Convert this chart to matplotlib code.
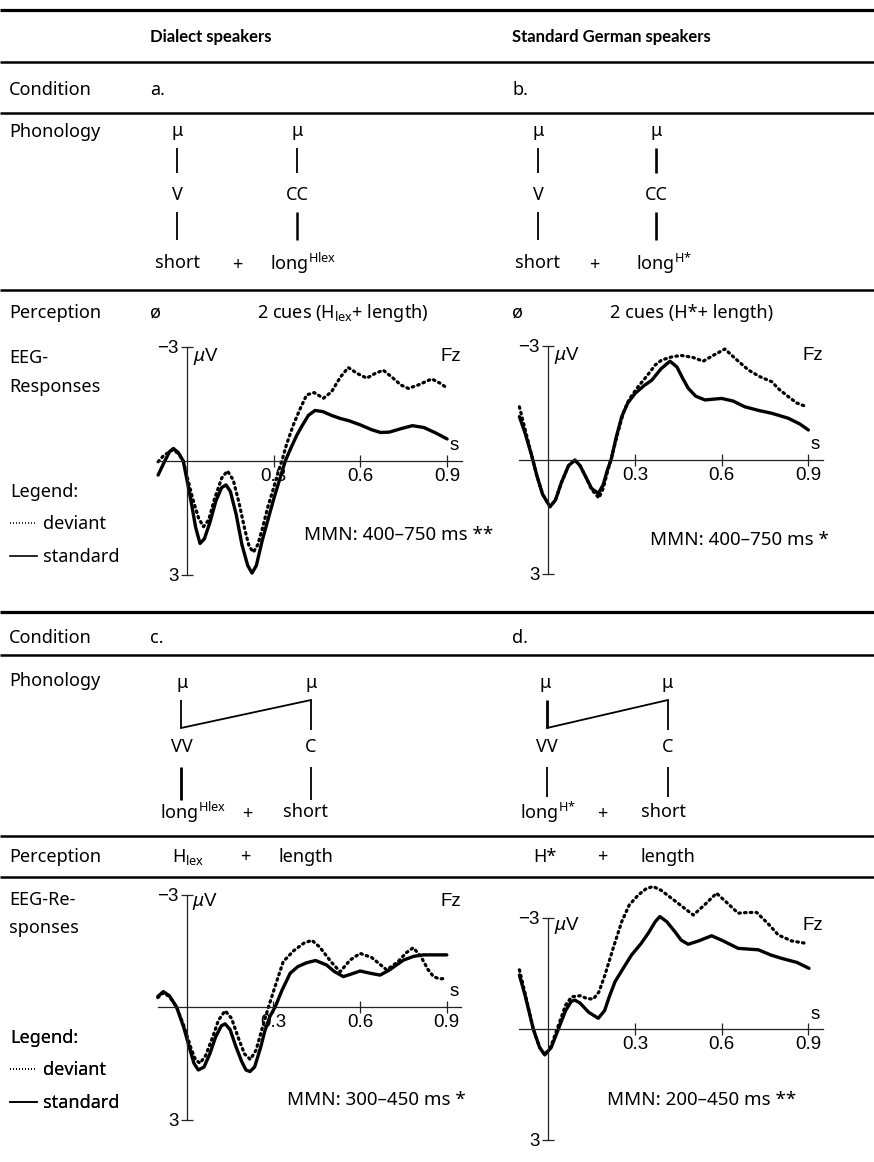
import matplotlib
matplotlib.use('Agg')
import matplotlib.pyplot as plt
from matplotlib.lines import Line2D

plt.rcParams['font.family'] = ['Noto Sans', 'DejaVu Sans']
plt.rcParams['mathtext.fontset'] = 'custom'
plt.rcParams['mathtext.rm'] = 'Noto Sans'
plt.rcParams['mathtext.it'] = 'Noto Sans:italic'
plt.rcParams['mathtext.bf'] = 'Noto Sans:bold'

# ---------------- data (time in s, amplitude in microvolt; negative plotted up) ----------------
t_a_std = [-0.10, -0.08, -0.06, -0.047, -0.03, -0.013, 0.0, 0.015, 0.03, 0.045, 0.06, 0.08, 0.10, 0.12,
           0.135, 0.15, 0.17, 0.19, 0.21, 0.225, 0.24, 0.26, 0.28, 0.30, 0.32, 0.34, 0.36, 0.38, 0.40,
           0.42, 0.443, 0.47, 0.50, 0.53, 0.56, 0.60, 0.64, 0.67, 0.70, 0.74, 0.78, 0.82, 0.86, 0.90]
v_a_std = [0.37, 0.05, -0.25, -0.33, -0.22, 0.0, 0.5, 1.1, 1.75, 2.17, 2.05, 1.6, 1.05, 0.7,
           0.63, 0.8, 1.4, 2.2, 2.75, 2.95, 2.75, 2.1, 1.55, 1.0, 0.5, 0.0, -0.35, -0.68, -0.95,
           -1.2, -1.33, -1.3, -1.2, -1.12, -1.06, -0.95, -0.82, -0.75, -0.76, -0.85, -0.93, -0.88, -0.74, -0.58]
t_a_dev = [-0.10, -0.08, -0.05, -0.03, -0.013, 0.0, 0.02, 0.04, 0.057, 0.075, 0.095, 0.12, 0.14, 0.16,
           0.18, 0.20, 0.215, 0.23, 0.245, 0.26, 0.28, 0.30, 0.315, 0.328, 0.345, 0.368, 0.39, 0.414,
           0.44, 0.472, 0.50, 0.53, 0.558, 0.59, 0.622, 0.65, 0.679, 0.71, 0.74, 0.766, 0.80, 0.847, 0.875, 0.898]
v_a_dev = [0.02, -0.15, -0.29, -0.2, 0.0, 0.4, 1.0, 1.5, 1.73, 1.55, 1.0, 0.45, 0.26, 0.5,
           1.1, 1.8, 2.25, 2.4, 2.2, 1.8, 1.2, 0.7, 0.3, 0.0, -0.45, -0.95, -1.35, -1.74,
           -1.8, -1.65, -1.82, -2.2, -2.46, -2.3, -2.18, -2.3, -2.39, -2.2, -2.0, -1.91, -2.0, -2.16, -2.05, -1.93]

t_b_std = [-0.10, -0.08, -0.058, -0.04, -0.02, 0.006, 0.025, 0.045, 0.07, 0.092, 0.11, 0.13, 0.15, 0.173,
           0.19, 0.205, 0.217, 0.235, 0.254, 0.275, 0.30, 0.33, 0.358, 0.39, 0.421, 0.445, 0.465, 0.484,
           0.51, 0.542, 0.57, 0.60, 0.64, 0.68, 0.73, 0.773, 0.83, 0.87, 0.90]
v_b_std = [-1.14, -0.7, -0.13, 0.4, 0.9, 1.23, 1.05, 0.6, 0.15, 0.0, 0.15, 0.45, 0.75, 0.88,
           0.65, 0.25, 0.0, -0.6, -1.14, -1.5, -1.75, -1.95, -2.1, -2.4, -2.6, -2.45, -2.15, -1.89,
           -1.68, -1.58, -1.6, -1.62, -1.55, -1.4, -1.3, -1.23, -1.1, -0.95, -0.79]
t_b_dev = [-0.10, -0.08, -0.058, -0.04, -0.02, 0.006, 0.025, 0.045, 0.07, 0.092, 0.11, 0.13, 0.15, 0.175,
           0.19, 0.205, 0.22, 0.24, 0.26, 0.28, 0.311, 0.34, 0.37, 0.392, 0.43, 0.461, 0.50, 0.536,
           0.57, 0.611, 0.65, 0.692, 0.73, 0.773, 0.80, 0.83, 0.86, 0.894]
v_b_dev = [-1.4, -0.8, -0.13, 0.4, 0.9, 1.23, 1.05, 0.6, 0.15, 0.0, 0.15, 0.45, 0.78, 1.0,
           0.75, 0.3, -0.1, -0.7, -1.25, -1.6, -1.93, -2.2, -2.5, -2.63, -2.72, -2.75, -2.7, -2.6,
           -2.75, -2.92, -2.65, -2.37, -2.2, -2.06, -1.85, -1.67, -1.5, -1.4]

t_c_std = [-0.10, -0.081, -0.06, -0.035, -0.01, 0.01, 0.025, 0.04, 0.06, 0.08, 0.10, 0.12, 0.133, 0.15,
           0.17, 0.19, 0.205, 0.219, 0.235, 0.255, 0.27, 0.288, 0.306, 0.33, 0.358, 0.385, 0.415, 0.446,
           0.484, 0.51, 0.542, 0.57, 0.60, 0.635, 0.669, 0.70, 0.75, 0.785, 0.819, 0.86, 0.90]
v_c_std = [-0.28, -0.41, -0.3, 0.0, 0.55, 1.1, 1.5, 1.68, 1.6, 1.25, 0.8, 0.5, 0.45, 0.6,
           1.05, 1.45, 1.68, 1.72, 1.6, 1.1, 0.65, 0.25, 0.0, -0.45, -0.9, -1.08, -1.18, -1.24,
           -1.12, -0.95, -0.81, -0.88, -0.96, -0.9, -0.85, -0.98, -1.25, -1.35, -1.39, -1.39, -1.39]
t_c_dev = [-0.10, -0.081, -0.06, -0.035, -0.01, 0.015, 0.03, 0.046, 0.065, 0.09, 0.11, 0.133, 0.155, 0.18,
           0.20, 0.22, 0.24, 0.26, 0.283, 0.31, 0.334, 0.37, 0.405, 0.433, 0.46, 0.50, 0.531, 0.565,
           0.60, 0.64, 0.692, 0.73, 0.76, 0.784, 0.81, 0.835, 0.854, 0.875, 0.894]
v_c_dev = [-0.25, -0.38, -0.28, 0.0, 0.5, 1.1, 1.4, 1.5, 1.3, 0.8, 0.35, 0.1, 0.3, 0.85,
           1.25, 1.4, 1.15, 0.6, 0.0, -0.65, -1.21, -1.5, -1.7, -1.78, -1.6, -1.2, -0.94, -1.25,
           -1.43, -1.32, -0.99, -1.2, -1.45, -1.58, -1.35, -1.0, -0.81, -0.75, -0.76]

t_d_std = [-0.10, -0.08, -0.052, -0.03, -0.012, 0.01, 0.035, 0.06, 0.08, 0.092, 0.11, 0.14, 0.173, 0.195,
           0.21, 0.231, 0.26, 0.288, 0.32, 0.346, 0.37, 0.386, 0.41, 0.438, 0.46, 0.484, 0.52, 0.565,
           0.60, 0.657, 0.727, 0.77, 0.807, 0.86, 0.902]
v_d_std = [-1.46, -0.9, 0.0, 0.5, 0.7, 0.5, 0.0, -0.5, -0.75, -0.78, -0.7, -0.45, -0.29, -0.5,
           -0.85, -1.28, -1.65, -2.0, -2.3, -2.59, -2.9, -3.04, -2.9, -2.63, -2.4, -2.29, -2.38, -2.52,
           -2.4, -2.18, -2.14, -2.0, -1.91, -1.8, -1.64]
t_d_dev = [-0.10, -0.08, -0.052, -0.03, -0.012, 0.01, 0.035, 0.06, 0.081, 0.11, 0.135, 0.156, 0.175, 0.196,
           0.225, 0.254, 0.28, 0.311, 0.34, 0.363, 0.39, 0.427, 0.465, 0.502, 0.54, 0.582, 0.62, 0.657,
           0.69, 0.721, 0.76, 0.796, 0.842, 0.888]
v_d_dev = [-1.6, -0.95, 0.0, 0.5, 0.7, 0.45, -0.1, -0.65, -0.87, -0.9, -0.82, -0.81, -1.0, -1.46,
           -2.2, -2.9, -3.35, -3.62, -3.8, -3.85, -3.75, -3.53, -3.3, -3.08, -3.35, -3.67, -3.4, -3.13,
           -3.15, -3.15, -2.85, -2.54, -2.38, -2.32]

x_ticks = [0.3, 0.6, 0.9]
x_ticklabels = ['0.3', '0.6', '0.9']
y_ticks = [-3, 3]
y_ticklabels = ['\u22123', '3']
mmn_labels = ['MMN: 400\u2013750 ms **', 'MMN: 400\u2013750 ms *',
              'MMN: 300\u2013450 ms *', 'MMN: 200\u2013450 ms **']
legend_labels = ['deviant', 'standard']

# ---------------- figure ----------------
W, H = 874, 1162
fig = plt.figure(figsize=(W / 100, H / 100), dpi=100)
bg = fig.add_axes([0, 0, 1, 1])
bg.set_xlim(0, W)
bg.set_ylim(H, 0)
bg.axis('off')

TF = 13.0    # table font size
ERPF = 13.5  # plot font
ERPFAM = ['Liberation Sans', 'DejaVu Sans']
HEADFAM = ['Lato', 'Open Sans', 'DejaVu Sans']


def rule(y, lw):
    bg.plot([0, W], [y, y], color='black', lw=lw, solid_capstyle='butt')


def txt(x, y, s, ha='left', size=TF, **kw):
    bg.text(x, y, s, ha=ha, va='center', fontsize=size, **kw)


def vline(x, y0, y1, lw=1.3):
    bg.plot([x, x], [y0, y1], color='black', lw=lw, solid_capstyle='butt')


# horizontal rules
rule(10, 2.3)
rule(62, 1.8)
rule(113, 1.8)
rule(290, 1.8)
rule(612, 2.3)
rule(655, 1.8)
rule(836, 1.8)
rule(877, 1.8)

# header
txt(150, 37, 'Dialect speakers', fontweight='bold', size=12.0, family=HEADFAM)
txt(512, 37, 'Standard German speakers', fontweight='bold', size=12.0, family=HEADFAM)

# row labels
LX = 9
txt(LX, 90, 'Condition')
txt(150, 90, 'a.')
txt(512, 90, 'b.')
txt(LX, 132, 'Phonology')
txt(LX, 313, 'Perception')
txt(LX, 358, 'EEG-')
txt(LX, 387, 'Responses')

txt(LX, 638, 'Condition')
txt(150, 638, 'c.')
txt(512, 638, 'd.')
txt(LX, 681, 'Phonology')
txt(LX, 857, 'Perception')
txt(LX, 900, 'EEG-Re-')
txt(LX, 928, 'sponses')

SUP_HLEX = 'long$^{\\mathrm{Hlex}}$'
SUP_HSTAR = 'long$^{\\mathrm{H}{*}}$'

# phonology a
txt(177, 131, '\u03bc', ha='center')
vline(177, 148, 173)
txt(177, 195, 'V', ha='center')
vline(177, 212, 240)
txt(177, 263, 'short', ha='center')
txt(237, 265, '+', ha='center')
txt(270, 263, SUP_HLEX)
txt(297, 131, '\u03bc', ha='center')
vline(297, 148, 173)
txt(297, 195, 'CC', ha='center')
vline(297, 212, 240, lw=1.8)
# phonology b
txt(538, 131, '\u03bc', ha='center')
vline(538, 148, 173)
txt(538, 195, 'V', ha='center')
vline(538, 212, 240)
txt(538, 263, 'short', ha='center')
txt(594, 265, '+', ha='center')
txt(636, 263, SUP_HSTAR)
txt(656, 131, '\u03bc', ha='center')
vline(656, 148, 173, lw=1.9)
txt(656, 195, 'CC', ha='center')
vline(656, 212, 240, lw=1.9)

# perception a/b
txt(150, 313, '\u00f8')
txt(257, 313, '2 cues (H$_{\\mathrm{lex}}$+ length)')
txt(512, 313, '\u00f8')
txt(610, 313, '2 cues (H*+ length)')

# phonology c
txt(182, 683, '\u03bc', ha='center')
txt(311, 683, '\u03bc', ha='center')
vline(181, 700, 728)
bg.plot([181, 311], [728, 700], color='black', lw=1.3)
vline(311, 700, 730)
txt(182, 747, 'VV', ha='center')
txt(311, 747, 'C', ha='center')
vline(181, 767, 800, lw=2.0)
vline(311, 767, 800)
txt(160, 812, SUP_HLEX)
txt(247, 814, '+', ha='center')
txt(305, 812, 'short', ha='center')
# phonology d
txt(545, 683, '\u03bc', ha='center')
txt(667, 683, '\u03bc', ha='center')
vline(547, 700, 728, lw=2.0)
bg.plot([547, 668], [728, 700], color='black', lw=1.3)
vline(668, 700, 730)
txt(547, 747, 'VV', ha='center')
txt(668, 747, 'C', ha='center')
vline(547, 767, 797)
vline(668, 767, 797)
txt(520, 812, SUP_HSTAR)
txt(602, 814, '+', ha='center')
txt(663, 812, 'short', ha='center')

# perception c/d
txt(172, 857, 'H$_{\\mathrm{lex}}$')
txt(245, 857, '+', ha='center')
txt(278, 857, 'length')
txt(533, 857, 'H*')
txt(602, 857, '+', ha='center')
txt(640, 857, 'length')

# legends
for ytop in (483, 1029):
    handles = [Line2D([], [], color='black', lw=1.2, linestyle=(0, (0.6, 1.2))),
               Line2D([], [], color='black', lw=1.2)]
    leg = bg.legend(handles, legend_labels, title='Legend:', loc='upper left',
                    bbox_to_anchor=(10, ytop), bbox_transform=bg.transData, frameon=False,
                    alignment='left', handlelength=1.5, handletextpad=0.3, labelspacing=0.8,
                    borderpad=0, borderaxespad=0, fontsize=TF, title_fontsize=TF)
    bg.add_artist(leg)

# ---------------- ERP panels ----------------
PXS = 289.0


def erp(x0, zero, pxuv, t_std, v_std, t_dev, v_dev, fz_v):
    tmin, tmax = -0.13, 0.99
    vmin, vmax = -4.3, 3.35
    left = x0 + tmin * PXS
    width = (tmax - tmin) * PXS
    top = zero + vmin * pxuv
    height = (vmax - vmin) * pxuv
    ax = fig.add_axes([left / W, 1 - (top + height) / H, width / W, height / H])
    ax.patch.set_alpha(0)
    ax.set_xlim(tmin, tmax)
    ax.set_ylim(vmax, vmin)
    for s in ('top', 'right'):
        ax.spines[s].set_visible(False)
    ax.spines['left'].set_position(('data', 0))
    ax.spines['bottom'].set_position(('data', 0))
    ax.spines['left'].set_bounds(-3, 3)
    ax.spines['bottom'].set_bounds(-0.1, 0.95)
    for s in ('left', 'bottom'):
        ax.spines[s].set_linewidth(0.9)
        ax.spines[s].set_color('#222222')
    ax.set_xticks(x_ticks)
    ax.set_xticklabels(x_ticklabels, family=ERPFAM, fontsize=ERPF)
    ax.set_yticks(y_ticks)
    ax.set_yticklabels(y_ticklabels, family=ERPFAM, fontsize=ERPF)
    ax.tick_params(axis='x', direction='inout', length=8, width=0.9, pad=1, color='#222222')
    ax.tick_params(axis='y', direction='inout', length=8, width=0.9, pad=2, color='#222222')
    ax.plot(t_dev, v_dev, color='black', lw=2.3, linestyle=(0, (0.5, 1.3)),
            dash_capstyle='round', clip_on=False)
    ax.plot(t_std, v_std, color='black', lw=2.4, solid_joinstyle='round',
            solid_capstyle='round', clip_on=False)
    ax.text(0.02, fz_v, '$\\mu$V', ha='left', va='center', fontsize=ERPF, family=ERPFAM)
    ax.text(0.95, fz_v, 'Fz', ha='right', va='center', fontsize=ERPF, family=ERPFAM)
    ax.text(0.925, -0.4, 's', ha='center', va='center', fontsize=ERPF, family=ERPFAM)
    return ax


erp(187, 461, 38.0, t_a_std, v_a_std, t_a_dev, v_a_dev, -2.75)
erp(548.3, 460, 38.0, t_b_std, v_b_std, t_b_dev, v_b_dev, -2.75)
erp(186.7, 1007, 37.5, t_c_std, v_c_std, t_c_dev, v_c_dev, -2.8)
erp(548.3, 1029, 37.0, t_d_std, v_d_std, t_d_dev, v_d_dev, -2.8)

MF = 13.5
txt(304, 535, mmn_labels[0], size=MF)
txt(650, 540, mmn_labels[1], size=MF)
txt(287, 1100, mmn_labels[2], size=MF)
txt(607, 1100, mmn_labels[3], size=MF)

fig.savefig('out.png', dpi=100)
